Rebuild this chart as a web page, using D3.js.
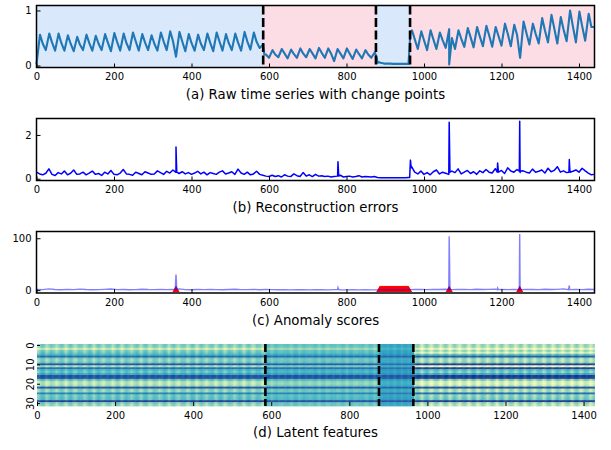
<!DOCTYPE html>
<html>
<head>
<meta charset="utf-8">
<script src="https://cdn.jsdelivr.net/npm/d3@7"></script>
<style>
  body { margin: 0; background: #fff; }
  text { font-family: "DejaVu Sans", sans-serif; }
</style>
</head>
<body>
<div id="chart"></div>
<script>
// ---- data ----

// change points (time index)
const changePoints = [585, 876, 964];
// segments shaded in panel (a): 0 = blue, 1 = pink
const segKinds = [0, 1, 0, 1];

// raw series: one trough (hour 0) and one peak (hour 10) per day, 60 days
const rawTroughs = [0.02, 0.28, 0.27, 0.27, 0.26, 0.28, 0.27, 0.28, 0.26, 0.27, 0.28, 0.27,
  0.28, 0.27, 0.28, 0.16, 0.26, 0.27, 0.28, 0.26, 0.27, 0.28, 0.27, 0.29,
  0.32,
  0.14, 0.15, 0.13, 0.14, 0.15, 0.13, 0.14, 0.08, 0.13, 0.12, 0.13,
  0.14,
  0.05, 0.035, 0.03,
  0.03,
  0.30, 0.28, 0.30, 0.32, 0.30, 0.34, 0.33, 0.35, 0.34, 0.36, 0.35, 0.14, 0.38, 0.40, 0.42, 0.40, 0.44, 0.42, 0.45];
const rawPeaks = [0.56, 0.58, 0.58, 0.55, 0.52, 0.56, 0.54, 0.57, 0.59, 0.58, 0.60, 0.57,
  0.55, 0.60, 0.62, 0.61, 0.57, 0.56, 0.58, 0.60, 0.57, 0.58, 0.61, 0.60,
  0.38,
  0.28, 0.30, 0.29, 0.31, 0.30, 0.32, 0.31, 0.30, 0.31, 0.29, 0.28,
  0.24,
  0.035, 0.03, 0.03,
  0.64, 0.62, 0.64, 0.60, 0.66, 0.64, 0.68, 0.70, 0.72, 0.70, 0.76, 0.74, 0.80, 0.76, 0.86, 0.92, 0.88, 1.0, 0.98, 0.94];
// shoulder after each peak (hour 16)
const rawShoulders = [0.40, 0.42, 0.41, 0.40, 0.38, 0.41, 0.40, 0.42, 0.43, 0.41, 0.44, 0.42,
  0.40, 0.44, 0.45, 0.44, 0.41, 0.40, 0.42, 0.44, 0.41, 0.42, 0.44, 0.43,
  0.20,
  0.20, 0.22, 0.21, 0.22, 0.22, 0.23, 0.22, 0.22, 0.22, 0.21, 0.20,
  0.05,
  0.035, 0.03, 0.03,
  0.48, 0.46, 0.48, 0.46, 0.50, 0.49, 0.52, 0.53, 0.55, 0.54, 0.58, 0.56, 0.60, 0.58, 0.64, 0.68, 0.66, 0.72, 0.72, 0.70];
// extra raw points [t, value]
const rawExtra = [[588, 0.20], [878, 0.14], [884, 0.06], [965, 0.60], [1065, 0.02], [1439, 0.70]];

// reconstruction errors every 8 steps (t = 0, 8, ... 1432)
const errValues = [
  0.30, 0.22, 0.18, 0.25, 0.45, 0.20, 0.15, 0.28, 0.22, 0.35, 0.18, 0.25, 0.40, 0.20, 0.22, 0.30, 0.18, 0.26, 0.35, 0.20,
  0.24, 0.15, 0.30, 0.22, 0.38, 0.20, 0.18, 0.26, 0.42, 0.22, 0.20, 0.16, 0.30, 0.24, 0.18, 0.32, 0.26, 0.20, 0.22, 0.36,
  0.28, 0.20, 0.34, 0.26, 0.40, 0.30, 0.24, 0.32, 0.22, 0.28, 0.20, 0.26, 0.34, 0.22, 0.30, 0.18, 0.28, 0.24, 0.20, 0.30,
  0.36, 0.22, 0.26, 0.32, 0.20, 0.44, 0.26, 0.20, 0.30, 0.18, 0.22, 0.34, 0.20, 0.16,
  0.12, 0.10, 0.16, 0.10, 0.14, 0.08, 0.18, 0.12, 0.10, 0.22, 0.14, 0.10, 0.28, 0.12, 0.18, 0.10, 0.20, 0.12, 0.14, 0.10,
  0.12, 0.08, 0.10, 0.12, 0.16, 0.08, 0.10, 0.12, 0.08, 0.10, 0.14, 0.08, 0.10, 0.09, 0.08, 0.10,
  0.06, 0.05, 0.05, 0.05, 0.05, 0.05, 0.05, 0.05, 0.05, 0.05, 0.06,
  0.55, 0.30, 0.22, 0.35, 0.20, 0.28, 0.18, 0.32, 0.40, 0.22, 0.30, 0.25, 0.20, 0.35, 0.28, 0.45, 0.22, 0.30, 0.38, 0.24,
  0.32, 0.20, 0.36, 0.28, 0.42, 0.30, 0.26, 0.46, 0.32, 0.38, 0.24, 0.50, 0.35, 0.30, 0.42, 0.28, 0.36, 0.30, 0.26, 0.44,
  0.30, 0.34, 0.40, 0.26, 0.48, 0.32, 0.38, 0.55, 0.30, 0.36, 0.28, 0.50, 0.34, 0.40, 0.30, 0.48, 0.36, 0.26, 0.18];
const errStep = 8;
const errSpikes = [[359, 0.3], [360, 1.45], [362, 0.3], [777, 0.12], [778, 0.78], [780, 0.12],
  [963, 0.06], [965, 0.85], [967, 0.5], [1064, 0.3], [1065, 2.58], [1067, 0.3],
  [1189, 0.3], [1190, 0.72], [1192, 0.3], [1246, 0.35], [1247, 2.62], [1249, 0.35],
  [1374, 0.3], [1375, 0.88], [1377, 0.3]];

// anomaly scores every 16 steps (t = 0, 16, ... 1424)
const scoreValues = [
  1.5, 1.0, 2.5, 1.2, 0.8, 1.5, 1.0, 2.0, 1.2, 0.8, 1.0, 1.5, 2.2, 1.0, 1.2, 0.8, 1.0, 1.8, 1.2, 1.0,
  1.5, 1.0, 1.2, 2.5, 1.0, 0.8, 1.2, 1.0, 1.5, 1.0, 0.8, 1.2, 1.8, 1.0, 1.0, 1.5, 0.8, 1.2, 1.0, 0.8,
  0.8, 0.6, 1.0, 0.8, 0.6, 1.0, 0.8, 0.6, 1.0, 0.8, 0.6, 0.8, 0.6, 0.8, 0.6, 0.5, 0.6, 0.5, 0.6, 0.5,
  0.6, 1.5, 1.2, 1.0, 1.5, 1.2, 1.8, 1.0, 1.2, 1.5, 1.0, 1.8, 1.2, 1.5, 2.0, 1.2, 1.0, 1.5, 2.0, 1.2,
  1.5, 1.0, 1.8, 1.2, 1.5, 2.5, 1.2, 1.5, 1.0, 1.8];
const scoreStep = 16;
const scoreSpikes = [[358, 1], [360, 30], [362, 1], [777, 1], [778, 5], [780, 1],
  [1064, 1], [1065, 104], [1067, 1], [1189, 1], [1190, 4], [1192, 1],
  [1246, 1], [1247, 108], [1249, 1], [1373, 1], [1375, 9], [1377, 1]];
// detected anomalies
const anomalyPoints = [360, 1065, 1247];
const anomalyRange = [886, 960];

// latent features heatmap: 32 rows, level per row for each segment
const hmLevels = [
  [0.38, 0.36, 0.22, 0.38, 0.42, 0.50, 0.72, 0.40, 0.36, 0.42, 0.78, 0.32, 0.70, 0.48, 0.44, 0.55,
   0.80, 0.78, 0.44, 0.28, 0.26, 0.32, 0.78, 0.38, 0.36, 0.66, 0.42, 0.44, 0.46, 0.84, 0.38, 0.34],
  [0.44, 0.42, 0.32, 0.44, 0.46, 0.54, 0.72, 0.44, 0.42, 0.46, 0.76, 0.40, 0.70, 0.52, 0.50, 0.58,
   0.80, 0.78, 0.48, 0.36, 0.34, 0.40, 0.76, 0.44, 0.42, 0.66, 0.46, 0.48, 0.50, 0.80, 0.44, 0.42],
  [0.56, 0.55, 0.50, 0.56, 0.57, 0.60, 0.74, 0.56, 0.55, 0.57, 0.72, 0.54, 0.70, 0.60, 0.58, 0.62,
   0.78, 0.76, 0.58, 0.52, 0.52, 0.55, 0.74, 0.56, 0.55, 0.68, 0.57, 0.58, 0.60, 0.78, 0.56, 0.55],
  [0.32, 0.30, 0.14, 0.32, 0.18, 0.45, 0.76, 0.34, 0.30, 0.36, 0.86, 0.16, 0.84, 0.45, 0.40, 0.55,
   0.88, 0.84, 0.38, 0.20, 0.18, 0.26, 0.80, 0.32, 0.30, 0.72, 0.36, 0.38, 0.42, 0.86, 0.32, 0.28]];
// daily stripe offset (every 3 hours) and how strongly each row / segment shows it
const hmStripe = [-0.12, -0.08, -0.02, 0.04, 0.07, 0.06, 0.02, -0.04];
const hmSegGain = [0.7, 0.3, 0.08, 0.9];
const hmRowGain = [1, 1, 1, 1, 1, 0.6, 0.3, 1, 1, 1, 0.3, 1, 0.3, 0.8, 1, 0.6,
  0.3, 0.3, 1, 1, 1, 1, 0.3, 1, 1, 0.4, 1, 1, 1, 0.3, 1, 1];
const hmLength = 1428;
const hmStep = 3;

const xTicks = [0, 200, 400, 600, 800, 1000, 1200, 1400];
const captions = ["(a) Raw time series with change points", "(b) Reconstruction errors",
  "(c) Anomaly scores", "(d) Latent features"];

// ---- layout ----
const width = 611, height = 450;
const left = 36.5, right = 594.5;
const panels = [
  { top: 5.5, bottom: 67.5, cap: 99 },
  { top: 118.5, bottom: 180.5, cap: 212 },
  { top: 231.5, bottom: 293, cap: 324.5 },
  { top: 344, bottom: 406, cap: 437 }];

const svg = d3.select("#chart").append("svg")
  .attr("width", width).attr("height", height);

const x = d3.scaleLinear().domain([0, 1440]).range([left, right]);
const xd = d3.scaleLinear().domain([0, hmLength]).range([37, right]);
const fmt = d3.format("d");

function segOf(t) {
  let s = 0;
  changePoints.forEach(c => { if (t >= c) s++; });
  return s;
}

function bottomAxis(p, scale) {
  const g = svg.append("g")
    .attr("transform", `translate(0,${p.bottom})`)
    .call(d3.axisBottom(scale).tickValues(xTicks).tickFormat(fmt)
      .tickSizeInner(-4).tickSizeOuter(0).tickPadding(5.5));
  g.select(".domain").remove();
  g.attr("font-size", 10).attr("font-family", "DejaVu Sans");
  return g;
}
function leftAxis(p, scale, ticks) {
  const g = svg.append("g")
    .attr("transform", `translate(${left},0)`)
    .call(d3.axisLeft(scale).tickValues(ticks).tickFormat(fmt)
      .tickSizeInner(-4).tickSizeOuter(0).tickPadding(5));
  g.select(".domain").remove();
  g.attr("font-size", 10).attr("font-family", "DejaVu Sans");
  return g;
}
function frame(p, x0) {
  svg.append("rect")
    .attr("x", x0).attr("y", p.top)
    .attr("width", right - x0).attr("height", p.bottom - p.top)
    .attr("fill", "none").attr("stroke", "#000").attr("stroke-width", 1.5);
}
function caption(p, i) {
  svg.append("text")
    .attr("x", (left + right) / 2).attr("y", p.cap)
    .attr("text-anchor", "middle").attr("font-size", 13.3)
    .text(captions[i]);
}

// ---- (a) raw time series ----
const pa = panels[0];
const ya = d3.scaleLinear().domain([-0.036, 1.09]).range([pa.bottom, pa.top]);
const bounds = [0, ...changePoints, 1440];
svg.append("g").selectAll("rect")
  .data(segKinds)
  .join("rect")
  .attr("x", (d, i) => x(bounds[i]))
  .attr("width", (d, i) => x(bounds[i + 1]) - x(bounds[i]))
  .attr("y", pa.top).attr("height", pa.bottom - pa.top)
  .attr("fill", d => d === 0 ? "#dae8fc" : "#fcdce5");

const rawPts = [];
rawTroughs.forEach((v, d) => rawPts.push([d * 24, v]));
rawPeaks.forEach((v, d) => rawPts.push([d * 24 + 9, v]));
rawShoulders.forEach((v, d) => rawPts.push([d * 24 + 16, v]));
rawExtra.forEach(p => rawPts.push(p));
rawPts.sort((a, b) => a[0] - b[0]);

svg.append("path")
  .datum(rawPts)
  .attr("fill", "none").attr("stroke", "#1f77b4").attr("stroke-width", 2.1)
  .attr("stroke-linejoin", "round")
  .attr("d", d3.line().x(d => x(d[0])).y(d => ya(d[1])));

svg.append("g").selectAll("line")
  .data(changePoints)
  .join("line")
  .attr("x1", d => x(d)).attr("x2", d => x(d))
  .attr("y1", pa.top).attr("y2", pa.bottom)
  .attr("stroke", "#000").attr("stroke-width", 2.6).attr("stroke-dasharray", "9,3.5");

bottomAxis(pa, x);
leftAxis(pa, ya, [0, 1]);
frame(pa, left);
caption(pa, 0);

// ---- (b) reconstruction errors ----
const pb = panels[1];
const yb = d3.scaleLinear().domain([-0.08, 2.75]).range([pb.bottom, pb.top]);
const errPts = errValues.map((v, i) => [i * errStep, v]).concat(errSpikes);
errPts.push([1439, 0.2]);
errPts.sort((a, b) => a[0] - b[0]);
svg.append("path")
  .datum(errPts)
  .attr("fill", "none").attr("stroke", "#0000ff").attr("stroke-width", 1.5)
  .attr("stroke-linejoin", "round")
  .attr("d", d3.line().x(d => x(d[0])).y(d => yb(d[1])));
bottomAxis(pb, x);
leftAxis(pb, yb, [0, 2]);
frame(pb, left);
caption(pb, 1);

// ---- (c) anomaly scores ----
const pc = panels[2];
const yc = d3.scaleLinear().domain([-5.5, 113]).range([pc.bottom, pc.top]);
const flagged = anomalyPoints.concat(d3.range(anomalyRange[0], anomalyRange[1] + 1));
svg.append("g").selectAll("path")
  .data(flagged)
  .join("path")
  .attr("transform", d => `translate(${x(d)},${yc(0.5)})`)
  .attr("d", d3.symbol(d3.symbolTriangle, 22))
  .attr("fill", "#ff0000");
const scorePts = scoreValues.map((v, i) => [i * scoreStep, v]).concat(scoreSpikes);
scorePts.push([1439, 1.2]);
scorePts.sort((a, b) => a[0] - b[0]);
svg.append("path")
  .datum(scorePts)
  .attr("fill", "none").attr("stroke", "#0000ff").attr("stroke-opacity", 0.5).attr("stroke-width", 1.4)
  .attr("d", d3.line().x(d => x(d[0])).y(d => yc(d[1])));
bottomAxis(pc, x);
leftAxis(pc, yc, [0, 100]);
frame(pc, left);
caption(pc, 2);

// ---- (d) latent features ----
const pd = panels[3];
const color = d3.scaleSequential(d3.interpolateYlGnBu).domain([0, 1]);
const rows = d3.range(32);
const yRow = d3.scaleBand().domain(rows).range([pd.top, pd.bottom]);
const cells = [];
d3.range(0, hmLength, hmStep).forEach(t => {
  const s = segOf(t);
  const ph = hmStripe[Math.floor((t % 24) / 3)];
  rows.forEach(r => {
    const v = hmLevels[s][r] + ph * hmSegGain[s] * hmRowGain[r];
    cells.push({ t, r, v: Math.max(0, Math.min(1, v)) });
  });
});
const cw = xd(hmStep) - xd(0);
svg.append("g").selectAll("rect")
  .data(cells)
  .join("rect")
  .attr("x", d => xd(d.t)).attr("y", d => yRow(d.r))
  .attr("width", cw + 0.4).attr("height", yRow.bandwidth() + 0.3)
  .attr("fill", d => color(d.v));

svg.append("g").selectAll("line")
  .data(changePoints)
  .join("line")
  .attr("x1", d => xd(d)).attr("x2", d => xd(d))
  .attr("y1", pd.top).attr("y2", pd.bottom)
  .attr("stroke", "#000").attr("stroke-width", 2.6).attr("stroke-dasharray", "8,3");

bottomAxis(pd, xd);
const yTick = d3.scaleLinear().domain([-0.5, 31.5]).range([pd.top, pd.bottom]);
const gy = svg.append("g")
  .attr("transform", `translate(37,0)`)
  .call(d3.axisLeft(yTick).tickValues([0, 10, 20, 30]).tickSizeInner(-3).tickSizeOuter(0));
gy.select(".domain").remove();
gy.attr("font-size", 10).attr("font-family", "DejaVu Sans");
gy.selectAll(".tick text")
  .attr("x", 0).attr("dy", "0.36em")
  .attr("text-anchor", "middle")
  .attr("transform", "translate(-6.5,0) rotate(-90)");
caption(pd, 3);
</script>
</body>
</html>
